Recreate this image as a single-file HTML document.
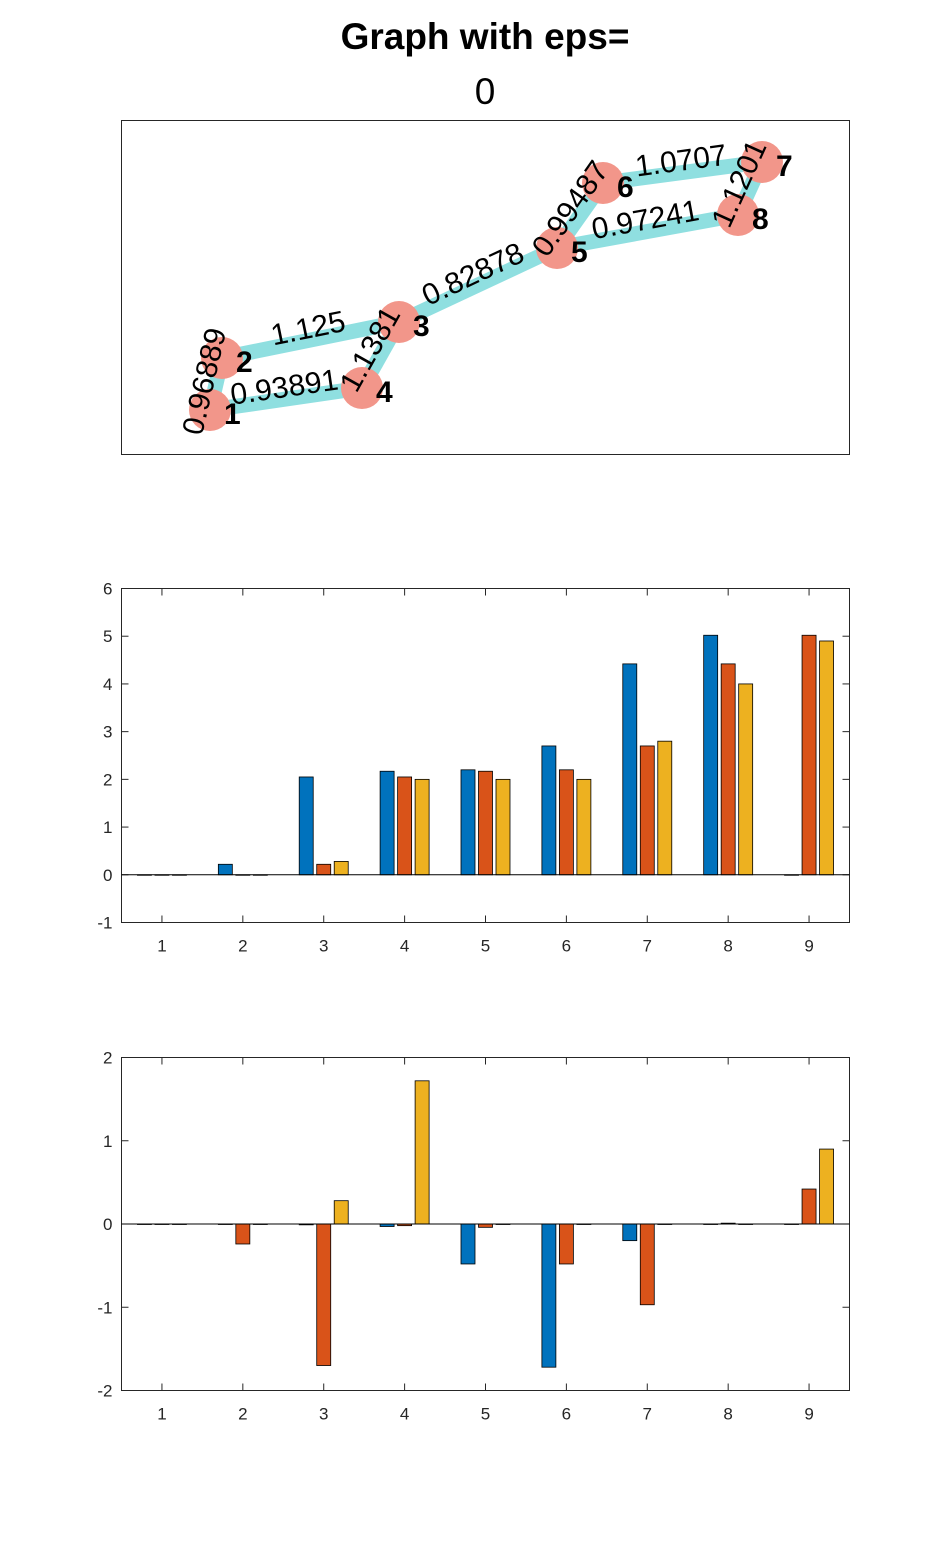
<!DOCTYPE html>
<html><head><meta charset="utf-8"><style>
body{margin:0;background:#fff;}
svg{display:block;font-family:"Liberation Sans",sans-serif;}
</style></head><body>
<svg id="s" width="938" height="1563">
<text x="485" y="49" font-size="37" font-weight="bold" text-anchor="middle">Graph with eps=</text>
<text x="485" y="104" font-size="37" text-anchor="middle">0</text>
<rect x="121.5" y="120.5" width="728" height="334" fill="#fff" stroke="#262626"/>
<g id="graph"></g>
<g id="c1"></g>
<g id="c2"></g>
</svg>
<script>
const NS="http://www.w3.org/2000/svg";
function mk(p,t,a){const e=document.createElementNS(NS,t);for(const k in a)e.setAttribute(k,a[k]);p.appendChild(e);return e;}
// Graph data
const nodeIds=[1,2,3,4,5,6,7,8];
const nodeX=[210,222,399,362,557,603,762,738];
const nodeY=[410,358,322,388,248,183,162,215];
const edgeFrom=[1,2,1,3,3,5,5,6,7];
const edgeTo=[2,3,4,4,5,6,8,7,8];
const edgeW=["0.96889","1.125","0.93891","1.1381","0.82878","0.99487","0.97241","1.0707","1.1201"];
const g=document.getElementById('graph');
edgeFrom.forEach((f,i)=>{const a=f-1,b=edgeTo[i]-1;
 const l=mk(g,'line',{x1:nodeX[a],y1:nodeY[a],x2:nodeX[b],y2:nodeY[b],stroke:'#8fdfe0','stroke-width':15});
 
 });
nodeIds.forEach((n,i)=>{const c=mk(g,'circle',{cx:nodeX[i],cy:nodeY[i],r:21,fill:'#f2968a'});
 
 });
edgeFrom.forEach((f,i)=>{const a=f-1,b=edgeTo[i]-1;
 const mx=(nodeX[a]+nodeX[b])/2,my=(nodeY[a]+nodeY[b])/2;
 let ang=Math.atan2(nodeY[b]-nodeY[a],nodeX[b]-nodeX[a])*180/Math.PI;
 if(ang>90)ang-=180; if(ang<=-90)ang+=180;
 const t=mk(g,'text',{x:mx,y:my-2,'font-size':30,'text-anchor':'middle',transform:`rotate(${ang} ${mx} ${my})`});
 t.textContent=edgeW[i];
 
 });
nodeIds.forEach((n,i)=>{const t=mk(g,'text',{x:nodeX[i]+14,y:nodeY[i]+14,'font-size':30,'font-weight':'bold'});
 t.textContent=n;
 
 });

// Bar charts
const categories=[1,2,3,4,5,6,7,8,9];
const c1Blue=[0,0.22,2.05,2.17,2.2,2.7,4.42,5.02,0];
const c1Orange=[0,0,0.22,2.05,2.17,2.2,2.7,4.42,5.02];
const c1Yellow=[0,0,0.28,2.0,2.0,2.0,2.8,4.0,4.9];
const c1Ticks=[-1,0,1,2,3,4,5,6];
const c2Blue=[0,0,-0.01,-0.03,-0.48,-1.72,-0.2,0,0];
const c2Orange=[0,-0.24,-1.7,-0.02,-0.04,-0.48,-0.97,0.01,0.42];
const c2Yellow=[0,0,0.28,1.72,0,0,0,0,0.9];
const c2Ticks=[-2,-1,0,1,2];
const colors=['#0072bd','#d95319','#edb120'];
function chart(id,top,bot,ymin,ymax,ticks,series,name){
 const p=document.getElementById(id);const L=121.5,R=849.5;
 const xs=v=>L+(v-0.5)*(R-L)/9, ys=v=>bot-(v-ymin)*(bot-top)/(ymax-ymin);
 const ax=mk(p,'rect',{x:L,y:top,width:R-L,height:bot-top,fill:'#fff',stroke:'#262626'});
 
 
 ticks.forEach(t=>{const y=ys(t);
  mk(p,'line',{x1:L,x2:L+7,y1:y,y2:y,stroke:'#262626'});mk(p,'line',{x1:R,x2:R-7,y1:y,y2:y,stroke:'#262626'});
  const tx=mk(p,'text',{x:L-9,y:y+6,'font-size':17,'text-anchor':'end',fill:'#262626'});tx.textContent=t;
  
  });
 categories.forEach(c=>{const x=xs(c);
  mk(p,'line',{x1:x,x2:x,y1:bot,y2:bot-7,stroke:'#262626'});mk(p,'line',{x1:x,x2:x,y1:top,y2:top+7,stroke:'#262626'});
  const tx=mk(p,'text',{x:x,y:bot+29,'font-size':17,'text-anchor':'middle',fill:'#262626'});tx.textContent=c;
  
  });
 const off=[-17.5,0,17.5];
 series.forEach((s,k)=>s.forEach((v,i)=>{const x=xs(categories[i])+off[k]-7;
  const y0=ys(0),y1=ys(v);
  const r=mk(p,'rect',{x:x,y:Math.min(y0,y1),width:14,height:Math.max(Math.abs(y1-y0),0.5),fill:colors[k],stroke:'#000','stroke-width':0.8});
  
  }));
 mk(p,'line',{x1:L,x2:R,y1:ys(0),y2:ys(0),stroke:'#000','stroke-width':1});
}
chart('c1',588.5,922.5,-1,6,c1Ticks,[c1Blue,c1Orange,c1Yellow],'chart-top');
chart('c2',1057.5,1390.5,-2,2,c2Ticks,[c2Blue,c2Orange,c2Yellow],'chart-bottom');
</script>
</body></html>
